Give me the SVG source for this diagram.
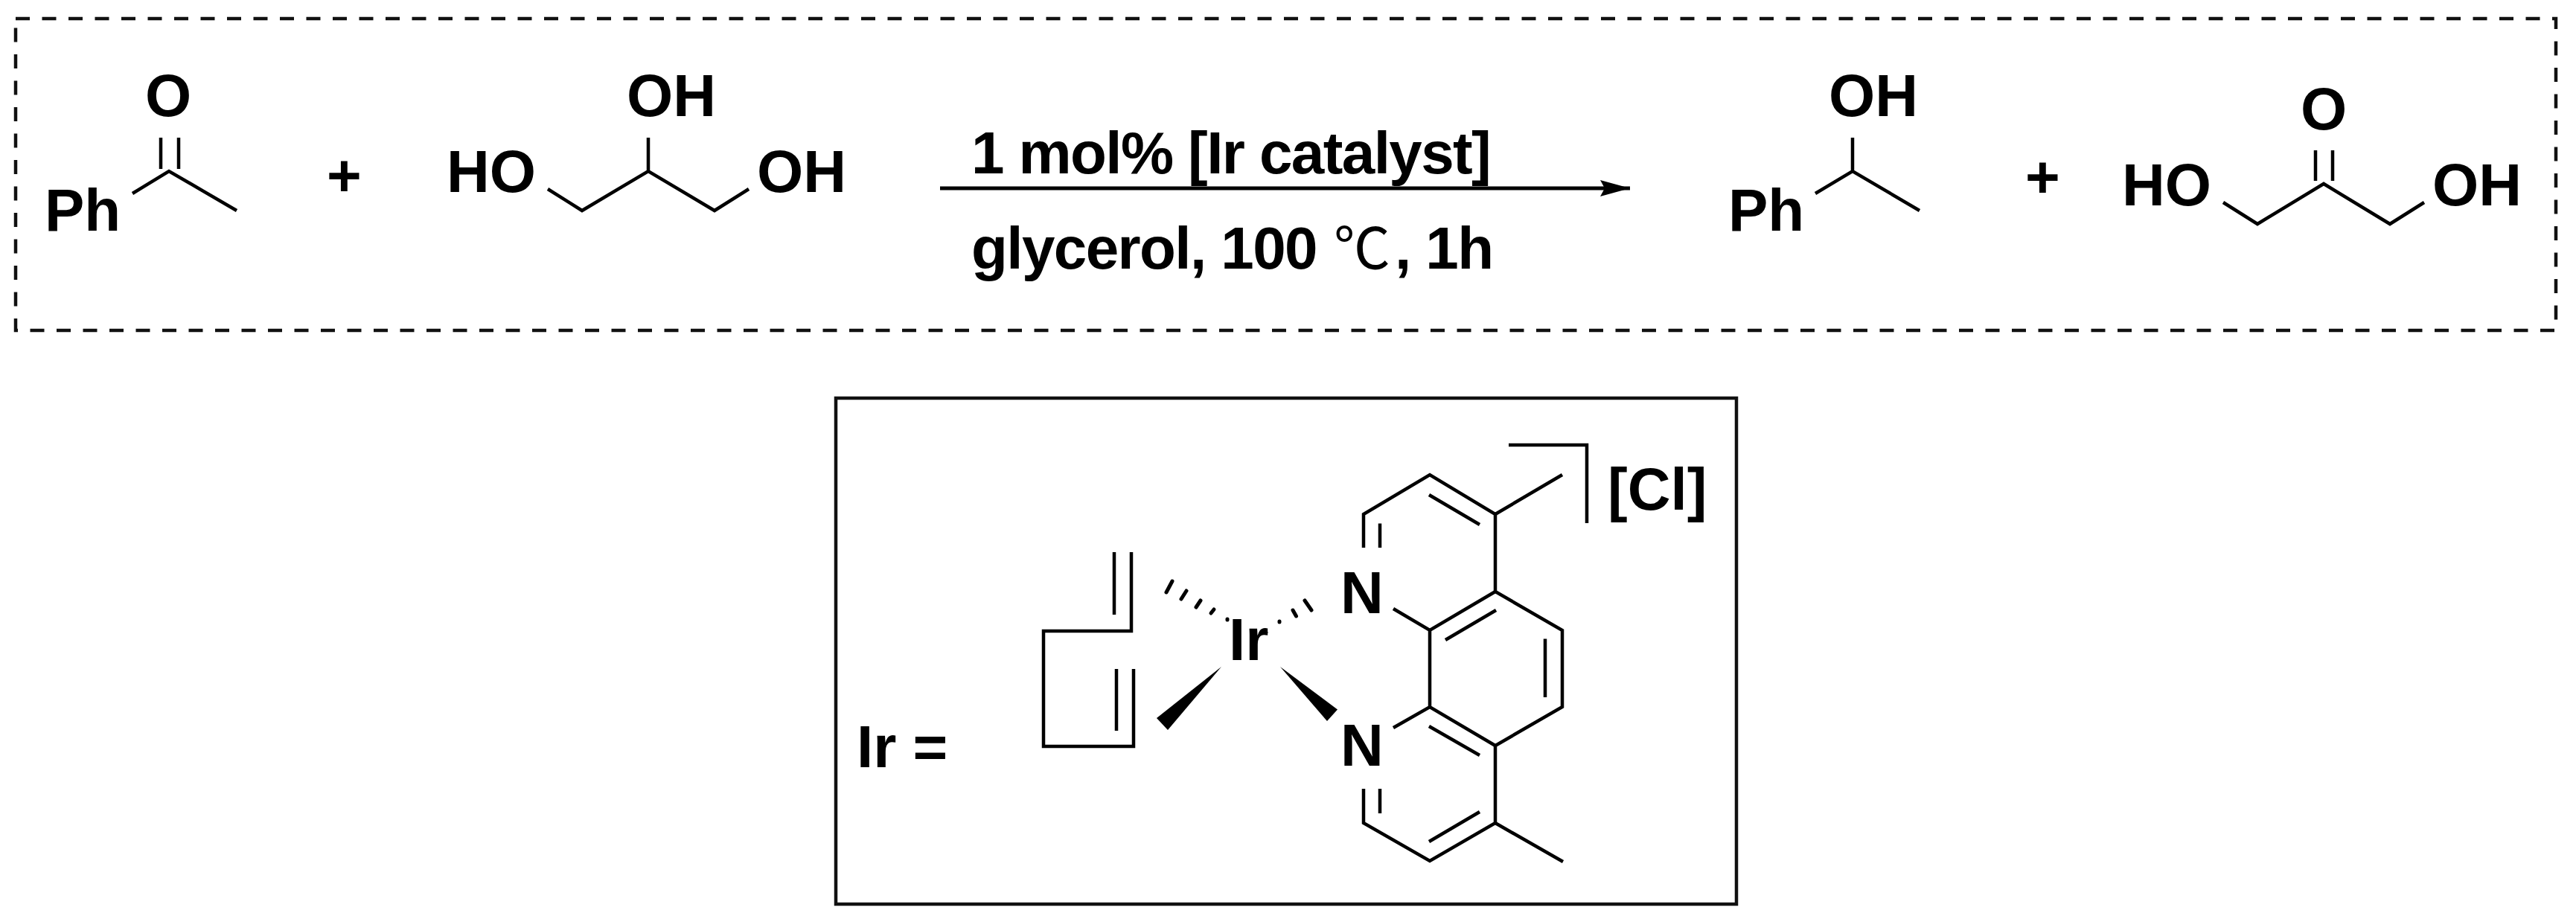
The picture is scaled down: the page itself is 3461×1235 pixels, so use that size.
<svg xmlns="http://www.w3.org/2000/svg" width="3461" height="1235" viewBox="0 0 3461 1235">
<style>
text{font-family:"Liberation Sans","Noto Sans CJK SC",sans-serif;font-weight:700;font-size:80px;fill:#000}
.thin{font-family:"Noto Sans CJK SC",sans-serif;font-weight:400;font-size:76px}
.tight{letter-spacing:-1.6px}
.b{fill:none;stroke:#000;stroke-width:4.500;stroke-linejoin:miter}
.h{fill:none;stroke:#000;stroke-width:5;stroke-linecap:round}
.w{fill:#000;stroke:none}
</style>
<defs>
<marker id="ah" markerUnits="userSpaceOnUse" markerWidth="42" markerHeight="24" refX="40" refY="12" orient="auto">
<path d="M0 1L40 12L0 23L6 12Z" fill="#000"/>
</marker>
</defs>
<rect width="3461" height="1235" fill="#fff"/>
<g id="reaction-frame">
<rect x="21" y="25" width="3413" height="419" fill="none" stroke="#111" stroke-width="4.500" stroke-dasharray="19 16.500"/>
</g>
<g id="acetophenone">
<text x="195" y="156">O</text>
<text x="60" y="310">Ph</text>
<path class="b" d="M178 260L227 230L318 283M216 185V227M240 185V227"/>
</g>
<text id="plus-left" x="439" y="263">+</text>
<g id="glycerol">
<text x="842" y="156">OH</text>
<text x="600" y="258">HO</text>
<text x="1017" y="258">OH</text>
<path class="b" d="M736 254L782 283L871 230L960 283L1006 254M871 185V230"/>
</g>
<g id="conditions">
<text class="tight" x="1305" y="233">1 mol% [Ir catalyst]</text>
<text x="1305" y="361"><tspan class="tight">glycerol, 100 </tspan><tspan class="thin" x="1792">℃</tspan><tspan class="tight" x="1874">, 1h</tspan></text>
</g>
<g id="connectors">
<line x1="1263" y1="253" x2="2190" y2="253" stroke="#000" stroke-width="5" marker-end="url(#ah)"/>
</g>
<g id="phenylethanol">
<text x="2457" y="156">OH</text>
<text x="2322" y="310">Ph</text>
<path class="b" d="M2439 260L2489 230L2579 283M2489 185V230"/>
</g>
<text id="plus-right" x="2721" y="265">+</text>
<g id="dihydroxyacetone">
<text x="3091" y="174">O</text>
<text x="2851" y="276">HO</text>
<text x="3268" y="276">OH</text>
<path class="b" d="M2987 272L3033 301L3122 247L3211 301L3257 272M3111 202V243M3134 202V243"/>
</g>
<g id="catalyst-frame">
<rect x="1123" y="535" width="1210" height="680" fill="none" stroke="#111" stroke-width="4.500"/>
</g>
<g id="ir-label"><text x="1151" y="1031">Ir =</text></g>
<g id="cod-ligand">
<path class="b" d="M1520 742V848H1402V1003H1523V899M1497 742V826M1500 899V982"/>
</g>
<g id="ir-center">
<text x="1651" y="887">Ir</text>
<path class="h" d="M1575 781L1567 796M1594 794L1587 805M1613 807L1607 816M1631 819L1627 824M1649 832L1649 833M1753 807L1762 820M1737 820L1741.500 828M1719 835L1719 836M1700 849L1701 850"/>
<polygon class="w" points="1641,896 1554,965 1569,981"/>
<polygon class="w" points="1720,896 1797,953.500 1783,969"/>
</g>
<g id="phenanthroline">
<text x="1801" y="824">N</text>
<text x="1801" y="1029">N</text>
<path class="b" d="M1832 736V691L1921 638L2009 691V795L2099 847V950L2009 1002V1106L1921 1157L1832 1106V1060"/>
<path class="b" d="M1872 818L1921 847L2009 795M1921 847V950M1872 978L1921 950L2009 1002M2009 691L2099 638M2009 1106L2100 1158"/>
<path class="b" d="M1854 703.500V736M1920 665L1988 705M1942 860L2010 820M2076 858.500V937M1920 976L1988 1015M1920 1131L1988 1091M1854 1060V1093"/>
</g>
<g id="charge">
<path class="b" d="M2027 598H2132V703"/>
<text x="2160" y="685">[Cl]</text>
</g>
</svg>
